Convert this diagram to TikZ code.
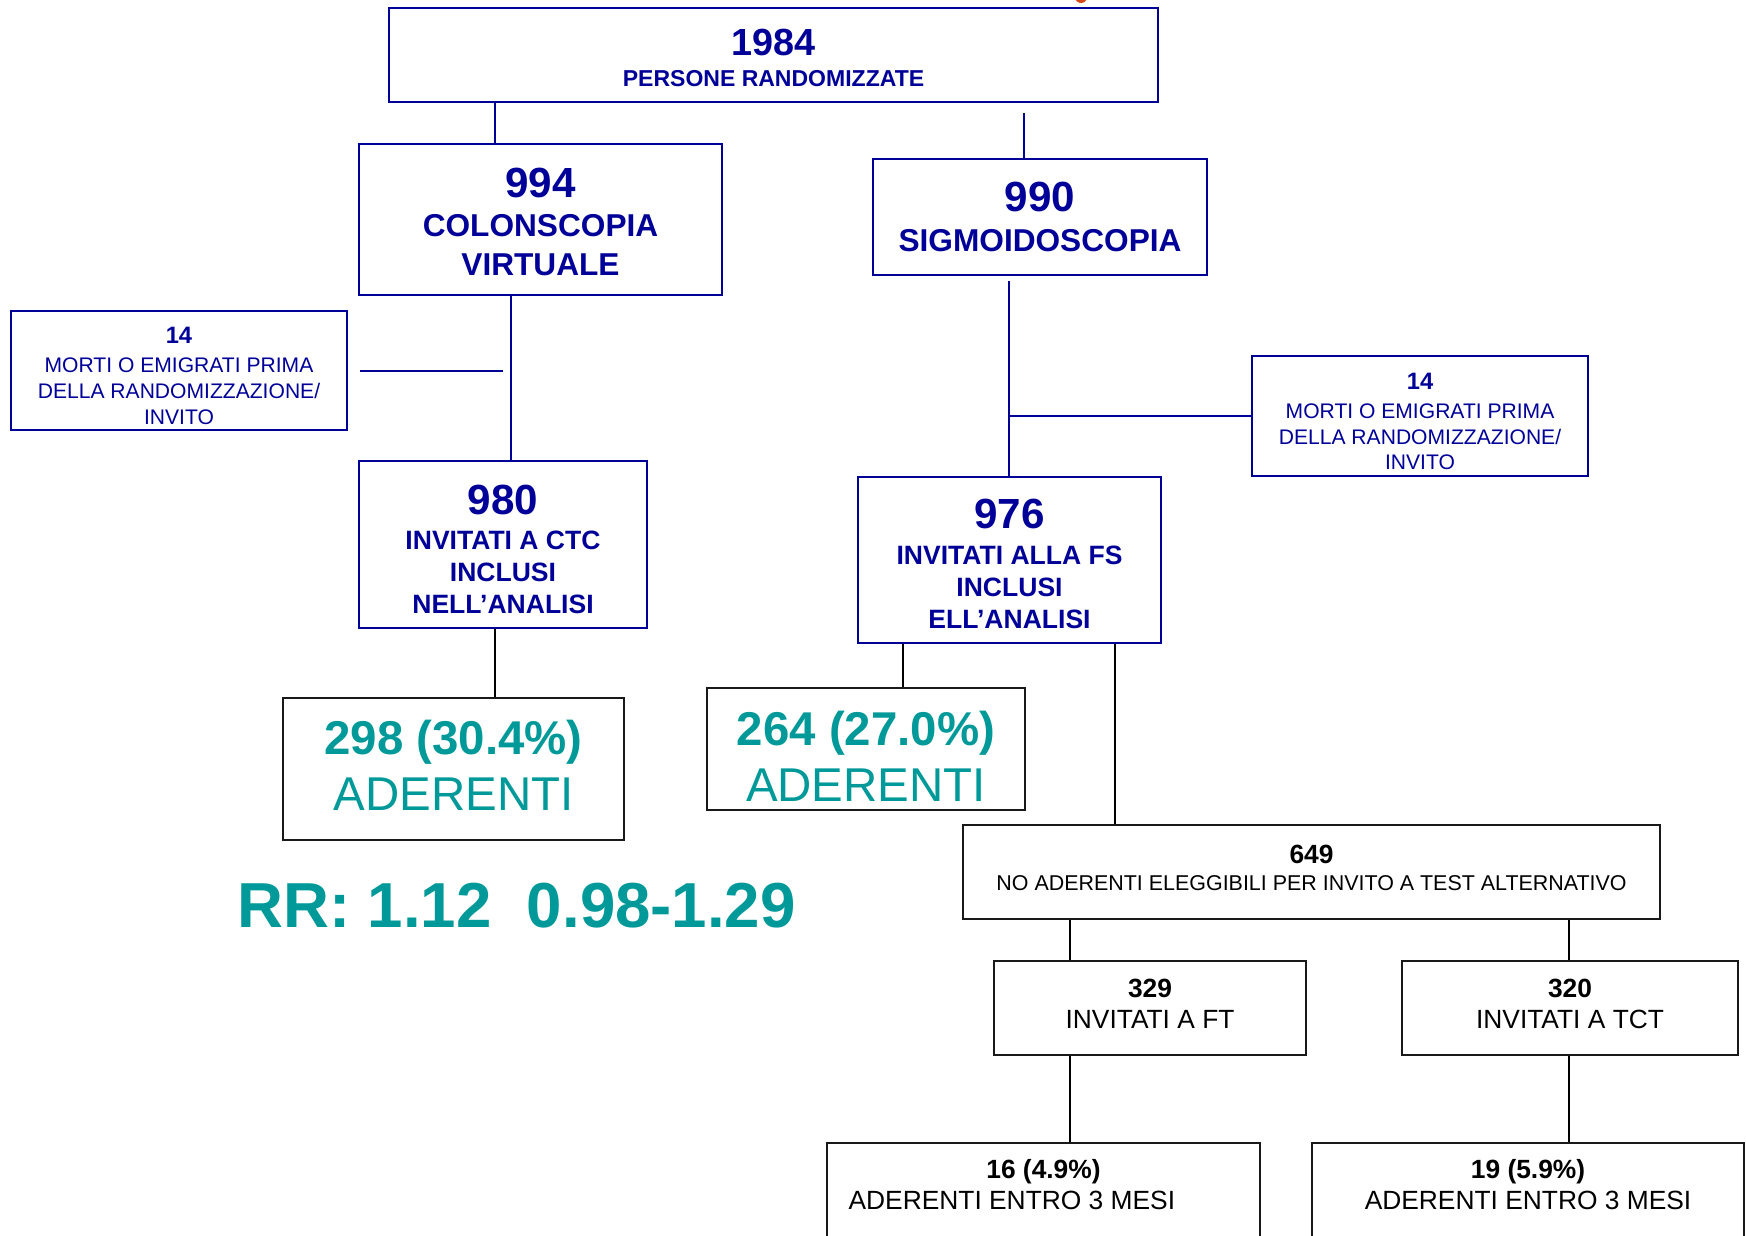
\documentclass[tikz,border=0pt]{standalone}
\usepackage{fontspec}
\setmainfont{Liberation Sans}
\definecolor{navy}{RGB}{0,0,153}
\definecolor{adgreen}{RGB}{0,153,153}
\definecolor{dotred}{RGB}{214,72,24}
\newcommand\pxu{0.02cm}

\begin{document}
\begin{tikzpicture}[x=0.02cm,y=-0.02cm,
    bluebox/.style={draw=navy,line width=1.15pt,text=navy,align=center,inner sep=0pt},
    blackbox/.style={draw=black!90,line width=1.15pt,align=center,inner sep=0pt},
    boxsize/.style 2 args={minimum width=#1*\pxu,minimum height=#2*\pxu},
    blueline/.style={draw=navy,line width=1.15pt},
    blackline/.style={draw=black,line width=1.15pt}]

    \useasboundingbox (0,0) rectangle (1746,1235);
    \fill[dotred] (1081,-3) circle [radius=6];

    % Randomised
    \node[bluebox,boxsize={769}{94},font=\fontsize{13.1}{17.6}\selectfont\bfseries] (tot) at (773.5,55)
        {{\fontsize{21.5}{24}\selectfont\rule{0pt}{18.6pt}1984}\\PERSONE RANDOMIZZATE};

    % The two arms
    \node[bluebox,boxsize={363}{151},font=\fontsize{18}{22.3}\selectfont\bfseries] (ctc) at (540.5,219.5)
        {{\fontsize{24}{28}\selectfont\rule{0pt}{19.7pt}994}\\COLONSCOPIA\\VIRTUALE};
    \node[bluebox,boxsize={334}{116},font=\fontsize{18}{22.3}\selectfont\bfseries] (fs) at (1040,217)
        {{\fontsize{24}{28}\selectfont 990}\\SIGMOIDOSCOPIA};

    % Excluded before invitation
    \node[bluebox,boxsize={336}{119},font=\fontsize{12}{14.6}\selectfont] (exl) at (179,370.5)
        {{\bfseries\fontsize{13.5}{15}\selectfont\rule{0pt}{15.6pt}14}\\[1.9pt]MORTI O EMIGRATI PRIMA\\DELLA RANDOMIZZAZIONE/\\INVITO};
    \node[bluebox,boxsize={336}{120},font=\fontsize{12}{14.6}\selectfont] (exr) at (1420,416)
        {{\bfseries\fontsize{13.5}{15}\selectfont\rule{0pt}{15.6pt}14}\\[1.9pt]MORTI O EMIGRATI PRIMA\\DELLA RANDOMIZZAZIONE/\\INVITO};

    % Invited and analysed
    \node[bluebox,boxsize={288}{167},font=\fontsize{15.1}{18.2}\selectfont\bfseries] (ctcinv) at (503,544.5)
        {{\fontsize{24}{28}\selectfont\rule{0pt}{22.3pt}980}\\[1.7pt]INVITATI A CTC\\INCLUSI\\NELL’ANALISI};
    \node[bluebox,boxsize={303}{166},font=\fontsize{15.1}{18.2}\selectfont\bfseries] (fsinv) at (1009.5,560)
        {{\fontsize{24}{28}\selectfont\rule{0pt}{21.6pt}976}\\[2.3pt]INVITATI ALLA FS\\INCLUSI\\ELL’ANALISI};

    % Adherents
    \node[blackbox,boxsize={341}{142},text=adgreen,font=\fontsize{27}{31.9}\selectfont] (ctcad) at (453.5,769)
        {{\bfseries 298 (30.4\%)}\\ADERENTI\rule[-3.8pt]{0pt}{3.8pt}};
    \node[blackbox,boxsize={318}{122},text=adgreen,font=\fontsize{27}{31.9}\selectfont] (fsad) at (866,749)
        {{\bfseries\rule{0pt}{28pt}264 (27.0\%)}\\ADERENTI};
    \node[anchor=base,text=adgreen,font=\fontsize{36.2}{40}\selectfont\bfseries] (rr) at (516.5,927)
        {RR: 1.12~~0.98-1.29};

    % Non adherents and alternative test
    \node[blackbox,boxsize={697}{94},font=\fontsize{12.2}{15.6}\selectfont] (nonad) at (1311.5,872)
        {{\bfseries\fontsize{15}{17}\selectfont 649}\\NO ADERENTI ELEGGIBILI PER INVITO A TEST ALTERNATIVO\rule[-4.5pt]{0pt}{4.5pt}};
    \node[blackbox,boxsize={312}{94},font=\fontsize{15}{17.8}\selectfont] (ft) at (1150,1008)
        {{\bfseries 329}\\INVITATI A FT\rule[-4.5pt]{0pt}{4.5pt}};
    \node[blackbox,boxsize={336}{94},font=\fontsize{15}{17.8}\selectfont] (tct) at (1570,1008)
        {{\bfseries 320}\\INVITATI A TCT\rule[-4.5pt]{0pt}{4.5pt}};
    \node[blackbox,boxsize={433}{120},anchor=north] (ftad) at (1043.5,1142) {};
    \node[blackbox,boxsize={432}{120},anchor=north] (tctad) at (1528,1142) {};
    \node[align=center,font=\fontsize{15}{17.75}\selectfont] (ftadtxt) at (1043.5,1184.5)
        {{\bfseries 16 (4.9\%)}\\ADERENTI ENTRO 3 MESI\hspace*{36pt}};
    \node[align=center,font=\fontsize{15}{17.75}\selectfont] (tctadtxt) at (1528,1184.5)
        {{\bfseries 19 (5.9\%)}\\ADERENTI ENTRO 3 MESI};

    % Connectors
    \coordinate (xa) at (495,0);
    \coordinate (xb) at (511,0);
    \coordinate (gapa) at (1024,113);
    \coordinate (gapb) at (1009,281);
    \coordinate (loosea) at (360,371);
    \coordinate (looseb) at (503,371);
    \coordinate (xc) at (903,0);
    \coordinate (xd) at (1115,0);
    \coordinate (xe) at (1070,0);
    \coordinate (xf) at (1569,0);

    \draw[blueline] (xa |- tot.south) -- (xa |- ctc.north);
    \draw[blueline] (gapa) -- (gapa |- fs.north);
    \draw[blueline] (xb |- ctc.south) -- (xb |- ctcinv.north);
    \draw[blueline] (loosea) -- (looseb);
    \draw[blueline] (gapb) -- (gapb |- fsinv.north);
    \draw[blueline] (gapb |- exr.west) -- (exr.west);
    \draw[blackline] (xa |- ctcinv.south) -- (xa |- ctcad.north);
    \draw[blackline] (xc |- fsinv.south) -- (xc |- fsad.north);
    \draw[blackline] (xd |- fsinv.south) -- (xd |- nonad.north);
    \draw[blackline] (xe |- nonad.south) -- (xe |- ft.north);
    \draw[blackline] (xf |- nonad.south) -- (xf |- tct.north);
    \draw[blackline] (xe |- ft.south) -- (xe |- ftad.north);
    \draw[blackline] (xf |- tct.south) -- (xf |- tctad.north);
\end{tikzpicture}
\end{document}
